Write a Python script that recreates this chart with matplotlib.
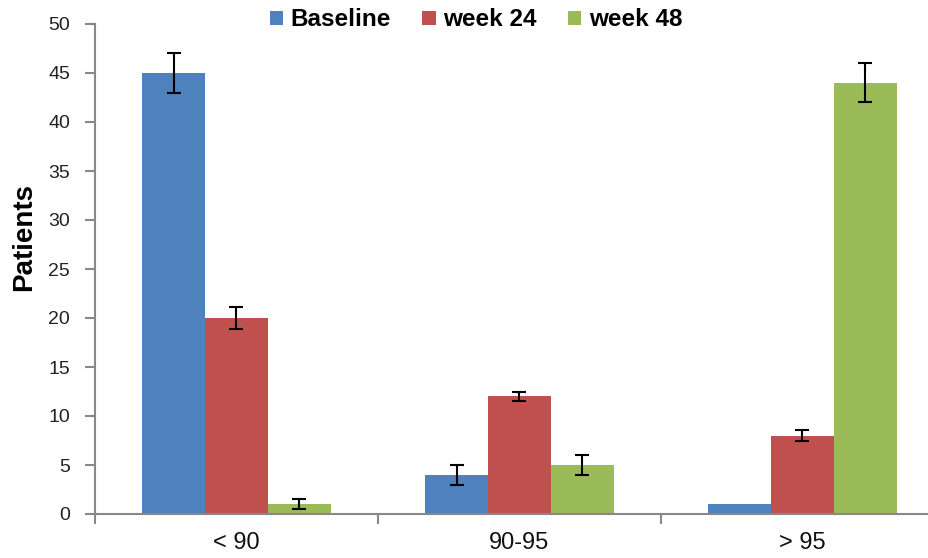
import numpy as np
import matplotlib.pyplot as plt

plt.rcParams['font.family'] = ['Liberation Sans', 'DejaVu Sans']

categories = ['< 90', '90-95', '> 95']
series = ['Baseline', 'week 24', 'week 48']
baseline = [45, 4, 1]
week24 = [20, 12, 8]
week48 = [1, 5, 44]
baseline_err = [2, 1, 0]
week24_err = [1.1, 0.5, 0.6]
week48_err = [0.5, 1, 2]
colors = ['#4F81BD', '#C0504D', '#9BBB59']

fig = plt.figure(figsize=(9.29, 5.58), dpi=100)
ax = fig.add_axes([95/929, 44/558, (929-95)/929, 490/558])

x = np.arange(len(categories))
w = 0.222
for i, (vals, errs) in enumerate(zip([baseline, week24, week48],
                                      [baseline_err, week24_err, week48_err])):
    pos = x + (i - 1) * w
    errs_plot = [e if e > 0 else np.nan for e in errs]
    ax.bar(pos, vals, w, color=colors[i], label=series[i], zorder=2)
    ax.errorbar(pos, vals, yerr=errs_plot, fmt='none', ecolor='black',
                elinewidth=1.5, capsize=5, capthick=1.5, zorder=3)

ax.set_yticks(np.arange(0, 51, 5))
ax.set_xticks([-0.5, 0.5, 1.5, 2.5])
ax.set_xticklabels([])
ax.set_xticks(x, minor=True)
ax.set_xticklabels(categories, minor=True, fontsize=17, color='#111111')
ax.set_ylim(0, 50)
ax.set_xlim(-0.5, (929-95)/283 - 0.5)
ax.tick_params(axis='x', which='minor', length=0, pad=13)
ax.tick_params(axis='x', which='major', length=7, color='#888888', width=1.5)
ax.tick_params(axis='y', length=7, color='#888888', width=1.5,
               labelsize=14, labelcolor='#222222', pad=11)

for s in ['top', 'right']:
    ax.spines[s].set_visible(False)
for s in ['left', 'bottom']:
    ax.spines[s].set_color('#888888')
    ax.spines[s].set_linewidth(1.5)

ax.set_ylabel('Patients', fontsize=20, fontweight='bold')
ax.yaxis.set_label_coords(-58/834, 0.565)

fig.legend(loc='center', bbox_to_anchor=(476/929, 1 - 20/558), ncol=3,
           frameon=False, prop={'size': 17.5, 'weight': 'bold'},
           handlelength=0.55, handleheight=0.55, handletextpad=0.3,
           columnspacing=1.3, borderpad=0)

fig.savefig('out.png', dpi=100)
